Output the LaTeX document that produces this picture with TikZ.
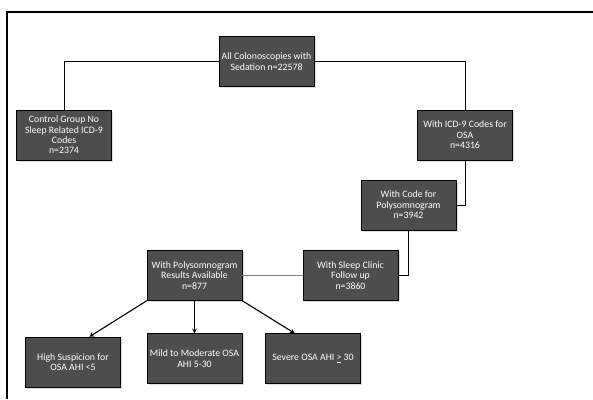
\documentclass[tikz,border=0pt]{standalone}
\usepackage{fontspec}
\setmainfont{Carlito}
\usepackage{xcolor}
\usepackage{tikz}
\usetikzlibrary{shapes,arrows}
\usetikzlibrary{shadows}
\definecolor{boxgray}{HTML}{4D4D4D}
\tikzstyle{block} = [rectangle, draw=black, fill=boxgray, text=white,
    align=center, minimum width=95pt, minimum height=50pt,
    inner sep=1pt, font=\fontsize{9.8}{10.4}\selectfont,
    drop shadow={shadow xshift=.4ex, shadow yshift=-.4ex, opacity=.25}]
\tikzstyle{edge} = [draw, -]
\tikzstyle{line} = [draw, -stealth, line width=1.1pt]
\begin{document}
\begin{tikzpicture}[x=1pt, y=-1pt]
  \useasboundingbox (0,0) rectangle (593,399);
  % Frame
  \draw [line width=2pt] (593,12) -- (7,12) -- (7,399);
  % Place nodes
  \node [block] (all) at (266.5,61.5) {All Colonoscopies with\\Sedation n=22578};
  \node [block] (control) at (64,135) {Control Group No\\Sleep Related ICD-9\\Codes\\n=2374};
  \node [block] (icd) at (465,135) {With ICD-9 Codes for\\OSA\\n=4316};
  \node [block] (code) at (408.5,205) {With Code for\\Polysomnogram\\n=3942};
  \node [block] (clinic) at (350.5,275.5) {With Sleep Clinic\\Follow up\\n=3860};
  \node [block] (psg) at (194.5,275.5) {With Polysomnogram\\Results Available\\n=877};
  \node [block] (high) at (73,362) {High Suspicion for\\OSA AHI <5};
  \node [block] (mild) at (194.5,358.5) {Mild to Moderate OSA\\AHI 5-30};
  \node [block] (severe) at (313,358.5) {Severe OSA AHI \underline{>} 30};
  % Draw edges
  \path [edge] (all.west) -| (control.north);
  \path [edge] (all.east) -| (icd.north);
  \path [edge] (icd.south) |- (code.east);
  \path [edge] (code.south) |- (clinic.east);
  \path [edge, draw=gray] (clinic.west) -- (psg.east);
  \path [line] (psg.south west) -- (high.57);
  \path [line] (psg.south) -- (mild.north);
  \path [line] (psg.south east) -- (severe.126);
\end{tikzpicture}
\end{document}
